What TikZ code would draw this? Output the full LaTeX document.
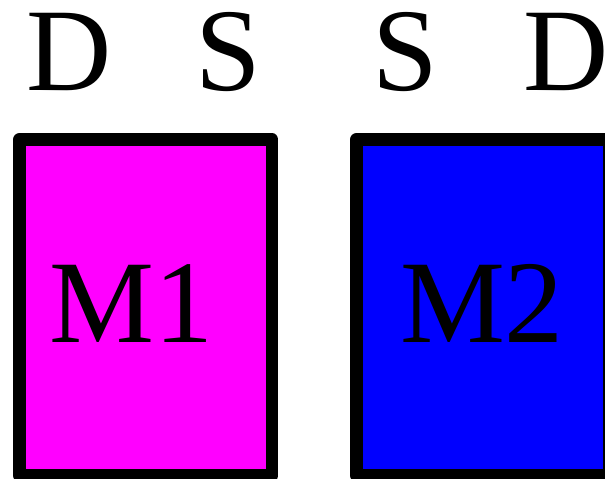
\documentclass[tikz,border=0pt]{standalone}
\usepackage{fontspec}
\setmainfont{Liberation Serif}
\definecolor{puremagenta}{RGB}{255,0,255}
\definecolor{pureblue}{RGB}{0,0,255}
\begin{document}
\begin{tikzpicture}[x=1pt,y=-1pt,
  chip/.style={draw=black,line width=12.7pt,line join=round},
  bigtxt/.style={anchor=base,inner sep=0pt,text height=76pt,text depth=0pt,font=\fontsize{118}{120}\selectfont}]
\useasboundingbox (0,0) rectangle (605,479);
\clip (0,0) rectangle (605,479);
\draw[chip,fill=puremagenta] (19.5,139.5) rectangle (272,475.5);
\draw[chip,fill=pureblue] (356.5,139.5) rectangle (609,475.5);
\node[bigtxt] (m1) at (131.5,342) {M1};
\node[bigtxt] (m2) at (482,342) {M2};
\node[bigtxt] (d1) at (69,90) {D};
\node[bigtxt] (s1) at (228.5,90) {S};
\node[bigtxt] (s2) at (405,90) {S};
\node[bigtxt] (d2) at (566.5,90) {D};
\end{tikzpicture}
\end{document}
